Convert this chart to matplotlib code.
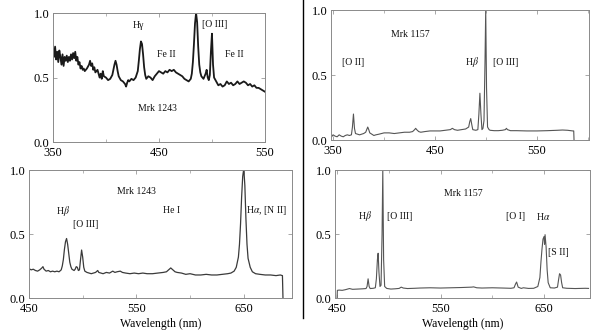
import matplotlib
matplotlib.use("Agg")
import matplotlib.pyplot as plt
from matplotlib.ticker import MultipleLocator

plt.rcParams['font.family'] = ['Liberation Serif', 'DejaVu Serif']
plt.rcParams['mathtext.fontset'] = 'stix'

# ---- Panel 1: Mrk 1243, 350-550 nm ----
w1 = [350, 351, 352, 353, 354, 355, 356, 357, 358, 359,
      360, 361, 362, 363, 364, 365, 366, 367, 368, 369,
      370, 371, 372, 373, 374, 375, 376, 377, 378, 379,
      380, 382, 384, 385, 386, 387, 388, 389, 390, 392,
      394, 395, 396, 397, 398, 400, 402, 404, 406, 407,
      408, 409, 410, 411, 412, 414, 416, 418, 419, 420,
      421, 422, 424, 426, 428, 430, 431, 432, 433, 434,
      435, 436, 437, 438, 440, 442, 444, 446, 448, 450,
      452, 454, 456, 458, 460, 462, 464, 466, 468, 470,
      472, 474, 476, 478, 480, 481, 482, 483, 484, 485,
      486, 487, 488, 489, 490, 492, 494, 495, 496, 497,
      498, 499, 500, 501, 502, 504, 506, 508, 510, 512,
      514, 516, 518, 520, 522, 524, 526, 528, 530, 532,
      534, 536, 538, 540, 542, 544, 546, 548, 550]
f1 = [0.72, 0.66, 0.74, 0.64, 0.70, 0.62, 0.71, 0.66, 0.60, 0.68,
      0.59, 0.66, 0.63, 0.67, 0.62, 0.66, 0.63, 0.68, 0.64, 0.69,
      0.65, 0.70, 0.63, 0.66, 0.60, 0.62, 0.57, 0.59, 0.56, 0.57,
      0.55, 0.57, 0.60, 0.63, 0.59, 0.61, 0.56, 0.58, 0.54, 0.56,
      0.50, 0.53, 0.49, 0.55, 0.51, 0.50, 0.48, 0.49, 0.52, 0.56,
      0.60, 0.63, 0.60, 0.55, 0.51, 0.48, 0.47, 0.45, 0.43, 0.46,
      0.48, 0.47, 0.49, 0.48, 0.50, 0.55, 0.63, 0.72, 0.78, 0.76,
      0.68, 0.58, 0.52, 0.49, 0.51, 0.50, 0.48, 0.51, 0.53, 0.55,
      0.54, 0.53, 0.55, 0.54, 0.56, 0.55, 0.56, 0.54, 0.53, 0.52,
      0.51, 0.49, 0.48, 0.47, 0.49, 0.53, 0.62, 0.76, 0.92, 1.00,
      0.93, 0.74, 0.60, 0.54, 0.51, 0.49, 0.53, 0.56, 0.50, 0.48,
      0.52, 0.70, 0.84, 0.60, 0.50, 0.47, 0.44, 0.45, 0.43, 0.44,
      0.47, 0.45, 0.46, 0.44, 0.45, 0.47, 0.45, 0.46, 0.47, 0.46,
      0.44, 0.45, 0.43, 0.44, 0.42, 0.42, 0.41, 0.40, 0.39]

# ---- Panel 2: Mrk 1157, 350-600 nm ----
w2 = [348, 350, 352, 354, 356, 358, 360, 362, 364, 366,
      368, 369, 370, 371, 372, 374, 376, 378, 380, 382,
      383, 384, 385, 386, 388, 390, 392, 395, 400, 405,
      410, 415, 420, 425, 428, 430, 431, 432, 434, 436,
      440, 445, 450, 455, 460, 465, 467, 469, 472, 476,
      480, 483, 484, 485, 486, 487, 490, 492, 493, 494,
      495, 496, 497, 498, 499, 499.7, 500.5, 501.5, 503, 504,
      508, 512, 516, 519, 520, 521, 524, 530, 540, 550,
      560, 570, 575, 580, 585, 586, 586.3]
f2 = [0.02, 0.04, 0.03, 0.025, 0.04, 0.03, 0.025, 0.035, 0.04, 0.035,
      0.04, 0.10, 0.20, 0.09, 0.05, 0.045, 0.04, 0.045, 0.05, 0.06,
      0.08, 0.10, 0.08, 0.055, 0.045, 0.035, 0.04, 0.045, 0.055, 0.055,
      0.05, 0.055, 0.06, 0.06, 0.065, 0.08, 0.09, 0.08, 0.065, 0.06,
      0.065, 0.07, 0.07, 0.07, 0.075, 0.08, 0.09, 0.08, 0.075, 0.08,
      0.085, 0.10, 0.14, 0.165, 0.12, 0.08, 0.075, 0.08, 0.20, 0.36,
      0.20, 0.08, 0.09, 0.15, 0.60, 1.00, 0.40, 0.10, 0.08, 0.075,
      0.072, 0.072, 0.075, 0.08, 0.09, 0.08, 0.072, 0.072, 0.07, 0.07,
      0.072, 0.075, 0.077, 0.075, 0.07, 0.07, 0.0]

# ---- Panel 3: Mrk 1243, 450-700 nm ----
w3 = [450, 452, 454, 456, 458, 460, 462, 463, 464, 466,
      468, 470, 472, 474, 476, 478, 480, 481, 482, 483,
      484, 485, 486, 487, 488, 489, 490, 492, 493, 494,
      495, 496, 497, 498, 499, 500, 501, 502, 504, 506,
      508, 510, 512, 514, 515, 517, 519, 522, 525, 528,
      530, 532, 535, 537, 540, 544, 548, 552, 556, 560,
      565, 570, 575, 578, 580, 582, 584, 586, 588, 592,
      596, 600, 605, 610, 615, 620, 625, 630, 635, 638,
      641, 643, 645, 646, 647, 648, 649, 650, 651, 652,
      653, 654, 656, 658, 661, 665, 670, 675, 680, 684,
      686, 686.5]
f3 = [0.23, 0.22, 0.225, 0.215, 0.21, 0.22, 0.235, 0.245, 0.225, 0.21,
      0.215, 0.205, 0.21, 0.205, 0.21, 0.205, 0.22, 0.25, 0.30, 0.38,
      0.44, 0.465, 0.42, 0.35, 0.28, 0.245, 0.225, 0.215, 0.225, 0.245,
      0.24, 0.215, 0.22, 0.30, 0.375, 0.32, 0.24, 0.21, 0.20, 0.195,
      0.19, 0.195, 0.20, 0.215, 0.20, 0.195, 0.19, 0.20, 0.195, 0.21,
      0.20, 0.205, 0.21, 0.20, 0.195, 0.19, 0.195, 0.19, 0.195, 0.19,
      0.19, 0.195, 0.20, 0.205, 0.22, 0.235, 0.22, 0.205, 0.20, 0.195,
      0.185, 0.19, 0.18, 0.18, 0.185, 0.18, 0.18, 0.185, 0.19, 0.195,
      0.21, 0.24, 0.32, 0.42, 0.58, 0.79, 0.95, 1.01, 0.88, 0.62,
      0.42, 0.31, 0.24, 0.205, 0.19, 0.185, 0.18, 0.18, 0.175, 0.18,
      0.175, 0.0]

# ---- Panel 4: Mrk 1157, 450-700 nm ----
w4 = [450, 450.3, 452, 455, 458, 462, 465, 470, 475, 478,
      479, 480, 481, 482, 485, 487, 488, 489, 489.7, 490.5,
      491.5, 492.5, 493.5, 494.2, 495, 496, 498, 502, 506, 510,
      512, 514, 518, 525, 530, 540, 550, 560, 570, 580,
      582, 585, 590, 600, 610, 618, 621, 622.5, 623.5, 625,
      628, 630, 635, 640, 644, 646, 647, 648, 649, 650,
      650.5, 651, 652, 653, 654, 656, 660, 663, 664, 665,
      666, 667, 668, 672, 680, 690, 693]
f4 = [0.0, 0.06, 0.062, 0.06, 0.065, 0.074, 0.068, 0.07, 0.072, 0.074,
      0.09, 0.15, 0.09, 0.074, 0.076, 0.08, 0.15, 0.30, 0.35, 0.20,
      0.09, 0.10, 0.50, 1.00, 0.30, 0.09, 0.075, 0.07, 0.072, 0.075,
      0.085, 0.078, 0.074, 0.076, 0.078, 0.08, 0.078, 0.08, 0.082, 0.085,
      0.087, 0.08, 0.078, 0.08, 0.078, 0.076, 0.08, 0.11, 0.125, 0.085,
      0.075, 0.08, 0.075, 0.076, 0.09, 0.16, 0.28, 0.38, 0.46, 0.48,
      0.42, 0.495, 0.40, 0.22, 0.12, 0.08, 0.078, 0.085, 0.14, 0.19,
      0.18, 0.12, 0.08, 0.076, 0.074, 0.076, 0.075]

yticks = [0.0, 0.5, 1.0]
xticks_top = [350, 450, 550]
xticks_bot = [450, 550, 650]

fig = plt.figure(figsize=(6.0, 3.35), dpi=100)

def style(ax, xlim, xticks):
    ax.set_xlim(*xlim)
    ax.set_ylim(0, 1.0)
    ax.set_xticks(xticks)
    ax.set_yticks(yticks)
    ax.set_yticklabels(['0.0', '0.5', '1.0'])
    ax.xaxis.set_minor_locator(MultipleLocator(50))
    ax.tick_params(which='both', direction='in', top=True, right=True,
                   color='#999999', labelsize=9)
    ax.tick_params(axis='x', pad=3.5)
    ax.tick_params(axis='y', pad=2.5)
    ax.tick_params(which='major', length=3, width=0.6)
    ax.tick_params(which='minor', length=2, width=0.5)
    for s in ax.spines.values():
        s.set_color('#8a8a8a')
        s.set_linewidth(0.7)

tk = dict(fontsize=7, ha='center', va='center', color='#111111')

# Panel 1
ax1 = fig.add_axes([0.0883, 0.576, 0.3533, 0.385])
ax1.plot(w1, f1, color='#1a1a1a', lw=1.3)
style(ax1, (350, 550), xticks_top)
ax1.text(430.5, 0.90, 'Hγ', **tk)
ax1.text(503, 0.91, '[O III]', **tk)
ax1.text(457, 0.676, 'Fe II', **tk)
ax1.text(521, 0.676, 'Fe II', **tk)
ax1.text(449, 0.26, 'Mrk 1243', **tk)

# Panel 2
ax2 = fig.add_axes([0.5517, 0.582, 0.430, 0.388])
ax2.plot(w2, f2, color='#555555', lw=0.8)
style(ax2, (348, 601), xticks_top)
ax2.text(426, 0.81, 'Mrk 1157', **tk)
ax2.text(370, 0.60, '[O II]', **tk)
ax2.text(486, 0.60, 'H$\\beta$', **tk)
ax2.text(519, 0.60, '[O III]', **tk)

# Panel 3
ax3 = fig.add_axes([0.0483, 0.1104, 0.438, 0.382])
ax3.plot(w3, f3, color='#3a3a3a', lw=0.9)
style(ax3, (450, 694.7), xticks_bot)
ax3.set_xlabel('Wavelength (nm)', fontsize=8.5, labelpad=2)
ax3.text(550.5, 0.83, 'Mrk 1243', **tk)
ax3.text(481.6, 0.68, 'H$\\beta$', **tk)
ax3.text(502.7, 0.577, '[O III]', **tk)
ax3.text(582.4, 0.68, 'He I', **tk)
ax3.text(671, 0.68, 'H$\\alpha$, [N II]', **tk)

# Panel 4
ax4 = fig.add_axes([0.5583, 0.1104, 0.425, 0.382])
ax4.plot(w4, f4, color='#555555', lw=0.8)
style(ax4, (448, 694.4), xticks_bot)
ax4.set_xlabel('Wavelength (nm)', fontsize=8.5, labelpad=2)
ax4.text(572, 0.816, 'Mrk 1157', **tk)
ax4.text(476.6, 0.64, 'H$\\beta$', **tk)
ax4.text(511, 0.64, '[O III]', **tk)
ax4.text(622.7, 0.64, '[O I]', **tk)
ax4.text(649, 0.64, 'H$\\alpha$', **tk)
ax4.text(663.5, 0.358, '[S II]', **tk)

# vertical divider
fig.add_artist(plt.Line2D([0.505, 0.505], [0.05, 1.0], color='black', lw=1.0,
                          transform=fig.transFigure))

fig.savefig('out.png', dpi=100)
